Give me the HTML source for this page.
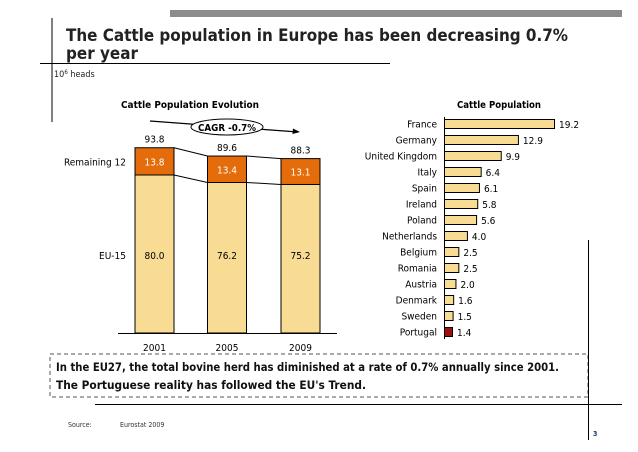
<!DOCTYPE html>
<html><head><meta charset="utf-8"><style>
html,body{margin:0;padding:0;background:#fff;}
svg{display:block;font-family:"DejaVu Sans Condensed","DejaVu Sans","Liberation Sans",sans-serif;font-stretch:condensed;}
</style></head><body>
<svg id="s" width="638" height="452" viewBox="0 0 638 452">
<rect x="170" y="10" width="452" height="7" fill="#8c8c8c"/>
<line x1="52" y1="18" x2="52" y2="122" stroke="#000" stroke-width="1"/>
<text x="66" y="41" font-size="16.5" font-weight="bold" fill="#222" textLength="502" lengthAdjust="spacingAndGlyphs">The Cattle population in Europe has been decreasing 0.7%</text>
<text x="66" y="59" font-size="16.5" font-weight="bold" fill="#222" textLength="72" lengthAdjust="spacingAndGlyphs">per year</text>
<line x1="40" y1="63.5" x2="390" y2="63.5" stroke="#000"/>
<text x="54" y="77" font-size="9" fill="#222">10<tspan font-size="6" dy="-3">6</tspan><tspan dy="3"> heads</tspan></text>
<text x="190" y="108" font-size="9.5" font-weight="bold" text-anchor="middle" textLength="138" lengthAdjust="spacingAndGlyphs">Cattle Population Evolution</text>
<text x="499" y="108" font-size="9.5" font-weight="bold" text-anchor="middle" textLength="84" lengthAdjust="spacingAndGlyphs">Cattle Population</text>
<g id="left"></g>
<g id="right"></g>
<rect x="50" y="354" width="538" height="43" fill="none" stroke="#555" stroke-dasharray="4,3"/>
<text x="56" y="371" font-size="11.5" font-weight="bold" fill="#111" textLength="503" lengthAdjust="spacingAndGlyphs">In the EU27, the total bovine herd has diminished at a rate of 0.7% annually since 2001.</text>
<text x="56" y="389" font-size="11.5" font-weight="bold" fill="#111" textLength="310" lengthAdjust="spacingAndGlyphs">The Portuguese reality has followed the EU's Trend.</text>
<line x1="95" y1="404.5" x2="622" y2="404.5" stroke="#000"/>
<line x1="588.5" y1="240" x2="588.5" y2="440" stroke="#000"/>
<text x="68" y="427" font-size="7" fill="#333">Source:</text>
<text x="120" y="427" font-size="7" fill="#333">Eurostat 2009</text>
<text x="593" y="436" font-size="7" font-weight="bold" fill="#1f3a6e">3</text>
</svg>
<script>
const years = ["2001","2005","2009"];
const eu15 = [80.0, 76.2, 75.2];
const rem12 = [13.8, 13.4, 13.1];
const totals = [93.8, 89.6, 88.3];
const countries = ["France","Germany","United Kingdom","Italy","Spain","Ireland","Poland","Netherlands","Belgium","Romania","Austria","Denmark","Sweden","Portugal"];
const cattle = [19.2, 12.9, 9.9, 6.4, 6.1, 5.8, 5.6, 4.0, 2.5, 2.5, 2.0, 1.6, 1.5, 1.4];

const NS="http://www.w3.org/2000/svg";
function mk(p,t,a,txt){const e=document.createElementNS(NS,t);for(const k in a)e.setAttribute(k,a[k]);if(txt!==undefined)e.textContent=txt;p.appendChild(e);return e;}
const L=document.getElementById('left'), R=document.getElementById('right');
const base=333, k=1.975;
const y=v=>base-v*k;
const xC=[154.5,227,300.5], bw=39;
const x0=i=>xC[i]-bw/2;
for(let i=0;i<years.length;i++){
  let r=mk(L,'rect',{x:x0(i),y:y(eu15[i]),width:bw,height:eu15[i]*k,fill:'#F8DC94',stroke:'#000','stroke-width':1});
  
  
  r=mk(L,'rect',{x:x0(i),y:y(eu15[i]+rem12[i]),width:bw,height:rem12[i]*k,fill:'#E46C0A',stroke:'#000','stroke-width':1});
  
  
  let t=mk(L,'text',{x:xC[i],y:y(eu15[i]+rem12[i]/2)+4,'font-size':10,'text-anchor':'middle',fill:'#fff'},rem12[i].toFixed(1));
  
  
  t=mk(L,'text',{x:xC[i],y:259,'font-size':10,'text-anchor':'middle',fill:'#000'},eu15[i].toFixed(1));
  
  
  t=mk(L,'text',{x:xC[i],y:y(totals[i])-5,'font-size':10,'text-anchor':'middle',fill:'#000'},totals[i].toFixed(1));
  
  
  t=mk(L,'text',{x:xC[i],y:351,'font-size':10,'text-anchor':'middle',fill:'#000'},years[i]);
  
  
  if(i<years.length-1){
    let l=mk(L,'line',{x1:x0(i)+bw,y1:y(eu15[i]+rem12[i]),x2:x0(i+1),y2:y(eu15[i+1]+rem12[i+1]),stroke:'#000'});
    
    
    l=mk(L,'line',{x1:x0(i)+bw,y1:y(eu15[i]),x2:x0(i+1),y2:y(eu15[i+1]),stroke:'#000'});
    
    
  }
}
let ax=mk(L,'line',{x1:118,y1:base+.5,x2:337,y2:base+.5,stroke:'#000'});


let lg=mk(L,'text',{x:126,y:y(eu15[0]+rem12[0]/2)+4,'font-size':10,'text-anchor':'end'},'Remaining 12');


lg=mk(L,'text',{x:126,y:259,'font-size':10,'text-anchor':'end'},'EU-15');


let ar=mk(L,'line',{x1:150,y1:121,x2:298,y2:132,stroke:'#000','stroke-width':1.2});


ar=mk(L,'polygon',{points:'300,132 293,128.5 292.5,134',fill:'#000'});


let el=mk(L,'ellipse',{cx:227,cy:127,rx:36,ry:8,fill:'#fff',stroke:'#000'});


el=mk(L,'text',{x:227,y:131,'font-size':10,'font-weight':'bold','text-anchor':'middle',textLength:58,lengthAdjust:'spacingAndGlyphs'},'CAGR -0.7%');


const ax0=444, sc=5.73, rowY=i=>124+i*16;
let ra=mk(R,'line',{x1:ax0+.5,y1:117,x2:ax0+.5,y2:339,stroke:'#000'});


for(let i=0;i<countries.length;i++){
  const cy=rowY(i);
  let b=mk(R,'rect',{x:ax0+.5,y:cy-4.5,width:cattle[i]*sc,height:9,fill:countries[i]==='Portugal'?'#9B0F0F':'#F8DC94',stroke:'#000'});
  
  
  let t=mk(R,'text',{x:437,y:cy+3.5,'font-size':10,'text-anchor':'end'},countries[i]);
  
  
  t=mk(R,'text',{x:ax0+cattle[i]*sc+5,y:cy+4,'font-size':10},cattle[i].toFixed(1));
  
  
}
</script>
</body></html>
